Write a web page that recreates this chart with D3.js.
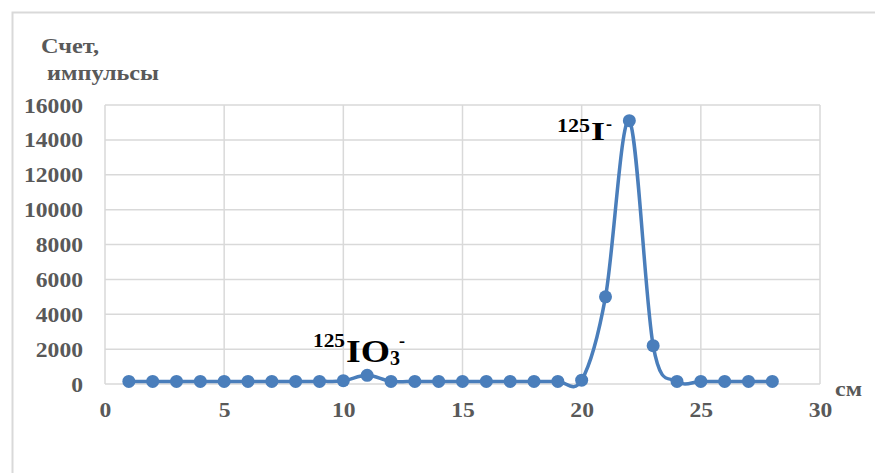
<!DOCTYPE html>
<html><head><meta charset="utf-8">
<script src="https://cdn.jsdelivr.net/npm/d3@7"></script>
<style>body{margin:0;background:#fff}svg{display:block}svg text{font-family:"Liberation Serif","Times New Roman",serif;font-weight:bold}</style>
</head><body><svg id="c" width="875" height="473"></svg>
<script>
const positions = [1,2,3,4,5,6,7,8,9,10,11,12,13,14,15,16,17,18,19,20,21,22,23,24,25,26,27,28];
const counts = [150,150,150,150,150,150,150,150,150,190,500,150,150,150,150,150,150,150,150,220,5000,15100,2200,150,150,150,150,150];
const xTicks = [0,5,10,15,20,25,30];
const yTicks = [0,2000,4000,6000,8000,10000,12000,14000,16000];
const yTitle = ["Счет,", "импульсы"];
const xUnit = "см";

const svg = d3.select("#c");
const W = 875, H = 473;
const grey = "#595959", grid = "#d9d9d9", blue = "#4a7ebb";
const font = "Liberation Serif";

svg.append("rect").attr("width", W).attr("height", H).attr("fill", "#fff");
svg.append("path").attr("d", `M12.5,${H} V12.5 H${W}`).attr("fill","none").attr("stroke", grid).attr("stroke-width", 2);

const x = d3.scaleLinear().domain([0,30]).range([105,820]);
const y = d3.scaleLinear().domain([0,16000]).range([384,105]);

// gridlines
svg.append("g").selectAll("line").data(yTicks.filter(d=>d>0)).join("line")
  .attr("x1", x(0)).attr("x2", x(30)).attr("y1", d=>y(d)).attr("y2", d=>y(d))
  .attr("stroke", grid).attr("stroke-width", 1.5);
svg.append("g").selectAll("line").data(xTicks).join("line")
  .attr("x1", d=>x(d)).attr("x2", d=>x(d)).attr("y1", y(0)).attr("y2", y(16000))
  .attr("stroke", grid).attr("stroke-width", 1.5);
svg.append("line").attr("x1", x(0)).attr("x2", x(30)).attr("y1", y(0)).attr("y2", y(0))
  .attr("stroke", grid).attr("stroke-width", 1.5);

// axes labels
const yAxis = d3.axisLeft(y).tickValues(yTicks).tickSize(0).tickPadding(0).tickFormat(d3.format("d"));
const gy = svg.append("g").attr("transform", `translate(83,0)`).call(yAxis);
gy.attr("font-family", null).attr("font-size", null);
gy.select(".domain").remove();
gy.selectAll("text").attr("font-size", 20)
  .attr("fill", grey).attr("dy", "0.35em")
  .attr("textLength", function(){ return this.textContent.length*11.8; }).attr("lengthAdjust","spacingAndGlyphs");

const xAxis = d3.axisBottom(x).tickValues(xTicks).tickSize(0).tickPadding(0);
const gx = svg.append("g").attr("transform", `translate(0,417)`).call(xAxis);
gx.attr("font-family", null).attr("font-size", null);
gx.select(".domain").remove();
gx.selectAll("text").attr("font-size", 20)
  .attr("fill", grey).attr("dy", 0).attr("y", 0)
  .attr("textLength", function(){ return this.textContent.length*11.8; }).attr("lengthAdjust","spacingAndGlyphs");

// titles
svg.append("text").attr("x", 41).attr("y", 53).text(yTitle[0])
  .attr("font-size", 21).attr("fill", grey).attr("textLength", 58).attr("lengthAdjust","spacingAndGlyphs");
svg.append("text").attr("x", 47).attr("y", 80).text(yTitle[1])
  .attr("font-size", 21).attr("fill", grey).attr("textLength", 112).attr("lengthAdjust","spacingAndGlyphs");
svg.append("text").attr("x", 835).attr("y", 396).text(xUnit)
  .attr("font-size", 20).attr("fill", grey).attr("textLength", 27).attr("lengthAdjust","spacingAndGlyphs");

// line
const data = positions.map((p,i)=>({x:p, y:counts[i]}));
svg.append("path").datum(data)
  .attr("d", d3.line().x(d=>x(d.x)).y(d=>y(d.y)).curve(d3.curveCardinal.tension(0)))
  .attr("fill","none").attr("stroke", blue).attr("stroke-width", 3.5);
svg.append("g").selectAll("circle").data(data).join("circle")
  .attr("cx", d=>x(d.x)).attr("cy", d=>y(d.y)).attr("r", 6.5).attr("fill", blue);

// annotations
const a1 = svg.append("text").attr("fill","#000");
a1.append("tspan").attr("x", 313).attr("y", 347).attr("font-size", 18).attr("textLength", 32).attr("lengthAdjust","spacingAndGlyphs").text("125");
a1.append("tspan").attr("x", 346).attr("y", 362).attr("font-size", 31).attr("textLength", 44).attr("lengthAdjust","spacingAndGlyphs").text("IO");
a1.append("tspan").attr("x", 390).attr("y", 365).attr("font-size", 20).text("3");
a1.append("tspan").attr("x", 399).attr("y", 347).attr("font-size", 18).text("-");

const a2 = svg.append("text").attr("fill","#000");
a2.append("tspan").attr("x", 557).attr("y", 132).attr("font-size", 19).attr("textLength", 33).attr("lengthAdjust","spacingAndGlyphs").text("125");
a2.append("tspan").attr("x", 591).attr("y", 140).attr("font-size", 26).attr("textLength", 14).attr("lengthAdjust","spacingAndGlyphs").text("I");
a2.append("tspan").attr("x", 606).attr("y", 130).attr("font-size", 18).text("-");
</script></body></html>
